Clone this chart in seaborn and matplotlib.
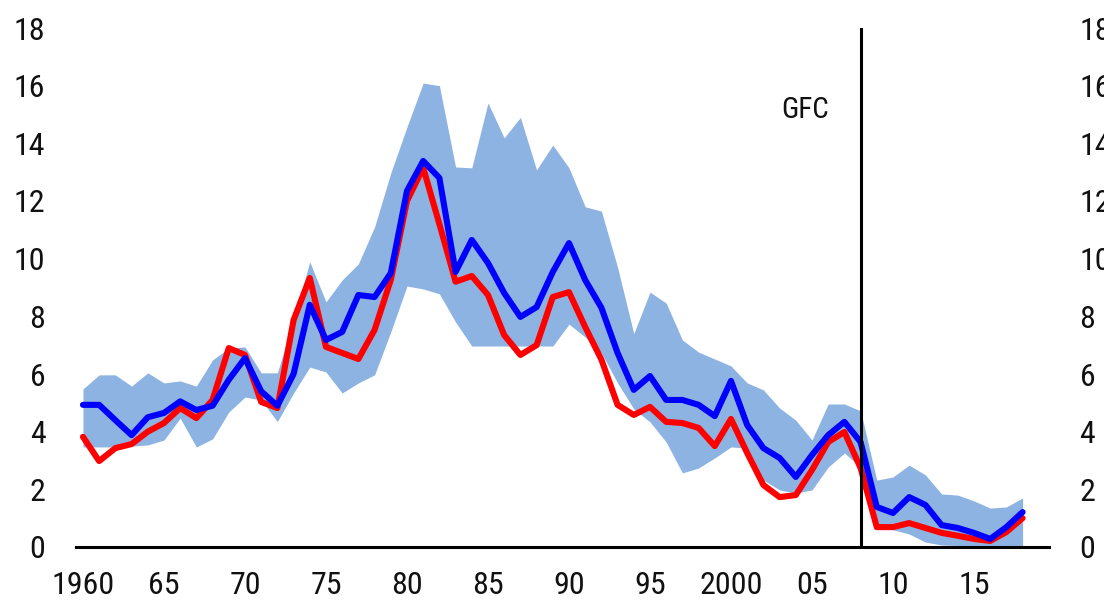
import numpy as np
import pandas as pd
import matplotlib
matplotlib.use("Agg")
import matplotlib.pyplot as plt
import seaborn as sns
from matplotlib import font_manager

years = list(range(1960, 2019))

blue_series = [4.93, 4.93, 4.40, 3.88, 4.50, 4.65, 5.05, 4.75, 4.90, 5.80,
               6.55, 5.40, 4.90, 6.00, 8.40, 7.18, 7.46, 8.74, 8.67, 9.50,
               12.35, 13.39, 12.80, 9.54, 10.65, 9.85, 8.81, 7.98, 8.32, 9.54,
               10.54, 9.26, 8.30, 6.73, 5.45, 5.93, 5.10, 5.10, 4.93, 4.54,
               5.76, 4.23, 3.43, 3.09, 2.43, 3.19, 3.88, 4.34, 3.64, 1.39,
               1.18, 1.73, 1.46, 0.76, 0.66, 0.49, 0.28, 0.69, 1.21]

red_series = [3.82, 2.98, 3.43, 3.57, 4.00, 4.30, 4.82, 4.47, 5.10, 6.90,
              6.66, 5.03, 4.82, 7.87, 9.33, 6.94, 6.73, 6.52, 7.53, 9.26,
              12.00, 13.15, 11.20, 9.20, 9.40, 8.74, 7.35, 6.66, 7.00, 8.67,
              8.84, 7.63, 6.50, 4.93, 4.58, 4.86, 4.34, 4.30, 4.13, 3.50,
              4.44, 3.26, 2.15, 1.73, 1.80, 2.67, 3.64, 3.99, 2.74, 0.69,
              0.69, 0.83, 0.66, 0.49, 0.39, 0.28, 0.21, 0.52, 1.00]

band_high = [5.48, 5.97, 5.97, 5.58, 6.04, 5.69, 5.76, 5.58, 6.49, 6.90,
             6.94, 6.04, 6.04, 7.90, 9.89, 8.50, 9.26, 9.82, 11.10, 12.97,
             14.57, 16.09, 16.00, 13.18, 13.15, 15.40, 14.19, 14.90, 13.08, 13.94,
             13.15, 11.80, 11.65, 9.70, 7.40, 8.84, 8.46, 7.18, 6.76, 6.52,
             6.28, 5.69, 5.45, 4.82, 4.40, 3.71, 4.96, 4.96, 4.72, 2.32,
             2.43, 2.84, 2.50, 1.84, 1.80, 1.60, 1.35, 1.39, 1.70]

band_low = [3.47, 3.47, 3.47, 3.50, 3.54, 3.71, 4.47, 3.47, 3.75, 4.68,
            5.20, 5.10, 4.35, 5.34, 6.24, 6.07, 5.34, 5.69, 5.97, 7.46,
            9.05, 8.95, 8.78, 7.80, 6.97, 6.97, 6.97, 6.97, 6.97, 6.97,
            7.73, 7.28, 6.73, 5.69, 4.79, 4.34, 3.64, 2.57, 2.74, 3.09,
            3.47, 3.43, 2.32, 1.98, 1.87, 1.98, 2.77, 3.26, 2.77, 0.66,
            0.60, 0.45, 0.17, 0.07, 0.05, 0.02, 0.00, 0.00, 0.00]

tick_years = [1960, 1965, 1970, 1975, 1980, 1985, 1990, 1995, 2000, 2005, 2010, 2015]
tick_labels = ["1960", "65", "70", "75", "80", "85", "90", "95", "2000", "05", "10", "15"]
y_ticks = list(range(0, 19, 2))

gfc_year = 2008
gfc_label = "GFC"

sns.set_theme(style="white")

# Pick a narrow sans face if one is available, else a Helvetica-like one.
entries = font_manager.fontManager.ttflist
names = {f.name for f in entries}
narrow_size = 23
label_font = None
for cand in ["Liberation Sans Narrow", "Roboto Condensed", "Open Sans Condensed",
             "Noto Sans Condensed", "Arial Narrow"]:
    if cand in names:
        label_font = {"family": [cand, "DejaVu Sans"], "stretch": "normal"}
        break
if label_font is None:
    condensed = [f for f in entries if f.name in ("Noto Sans", "Open Sans", "DejaVu Sans")
                 and str(f.stretch) in ("condensed", "semi-condensed", "500", "375", "75")
                 and f.style == "normal" and f.weight in (400, "normal", "regular")]
    if condensed:
        label_font = {"family": [condensed[0].name, "DejaVu Sans"], "stretch": condensed[0].stretch}
    else:
        label_font = {"family": ["Liberation Sans", "DejaVu Sans"], "stretch": "normal"}
        narrow_size = 20

plt.rcParams["font.family"] = label_font["family"]
plt.rcParams["font.stretch"] = label_font["stretch"]

df = pd.DataFrame({
    "year": years,
    "blue": blue_series,
    "red": red_series,
    "high": band_high,
    "low": band_low,
})

fig = plt.figure(figsize=(11.04, 6.0), dpi=100)
ax = fig.add_axes([76 / 1104, 53 / 600, (1049 - 76) / 1104, (547 - 28) / 600])

ax.fill_between(df["year"], df["low"], df["high"], color="#8DB3E2", linewidth=0, zorder=1)
sns.lineplot(data=df, x="year", y="blue", ax=ax, color="#0000FF", linewidth=4.4, zorder=3)
sns.lineplot(data=df, x="year", y="red", ax=ax, color="#FF0000", linewidth=4.4, zorder=2)

ax.axvline(gfc_year, color="black", linewidth=2.2, zorder=4)
ax.text(2004.55, 15.15, gfc_label, ha="center", va="center",
        fontsize=narrow_size - 2, color="#111111")

ax.set_xlim(1959.57, 2019.63)
ax.set_ylim(0, 18)
ax.set_xticks(tick_years)
ax.set_xticklabels(tick_labels)
ax.set_yticks(y_ticks)
ax.set_xlabel("")
ax.set_ylabel("")

for side in ["top", "left", "right"]:
    ax.spines[side].set_visible(False)
ax.spines["bottom"].set_color("black")
ax.spines["bottom"].set_linewidth(2.2)

ax.tick_params(axis="x", length=0, pad=17, labelsize=narrow_size, labelcolor="#111111")
ax.tick_params(axis="y", length=0, pad=22, labelsize=narrow_size, labelcolor="#111111",
               left=True, right=True, labelleft=True, labelright=True)

fig.savefig("out.png", dpi=100)
